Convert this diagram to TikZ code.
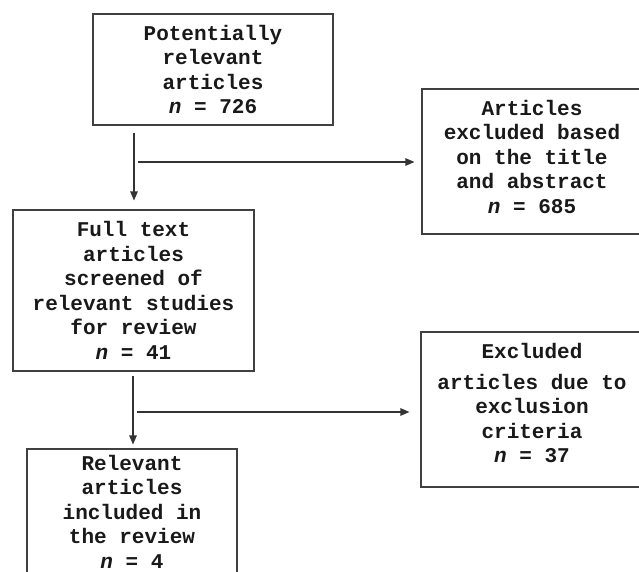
\documentclass[tikz,border=0pt]{standalone}
\usepackage{fontspec}
\setmainfont{Liberation Mono}
\usetikzlibrary{arrows.meta}
\begin{document}
\begin{tikzpicture}[x=1pt,y=-1pt,
  box/.style={draw=black!75, line width=1.1pt, align=center, inner sep=0pt,
    font=\fontsize{21}{24.5}\selectfont\bfseries, text=black!90},
  arr/.style={draw=black!80, line width=1.1pt, -{Triangle[length=9pt,width=7.5pt]}}]
\useasboundingbox (0,0) rectangle (639,571);
\clip (0,0) rectangle (639,571);
\node[box, minimum width=240pt, minimum height=111pt] (b1) at (213,69.5)
  {Potentially\\relevant\\articles\\{\itshape n} = 726};
\node[box, minimum width=220pt, minimum height=145pt, text depth=10pt] (b2) at (532,161.5)
  {Articles\\excluded based\\on the title\\and abstract\\{\itshape n} = 685};
\node[box, minimum width=241pt, minimum height=161pt] (b3) at (133.5,290.5)
  {Full text\\articles\\screened of\\relevant studies\\for review\\{\itshape n} = 41};
\node[box, minimum width=222pt, minimum height=155pt, text depth=13pt] (b4) at (532,409.5)
  {Excluded\\[6pt]articles due to\\exclusion\\criteria\\{\itshape n} = 37};
\node[box, minimum width=210pt, minimum height=132pt, text depth=7pt] (b5) at (132,515)
  {Relevant\\articles\\included in\\the review\\{\itshape n} = 4};
\coordinate (c1) at (134,0);
\coordinate (h1) at (138,162);
\coordinate (c2) at (133,0);
\coordinate (h2) at (137,412);
\draw[arr, shorten <=7pt, shorten >=9pt] (b1.south -| c1) -- (b3.north -| c1);
\draw[arr, shorten >=7pt] (h1) -- (h1 -| b2.west);
\draw[arr, shorten <=4pt, shorten >=4pt] (b3.south -| c2) -- (b5.north -| c2);
\draw[arr, shorten >=11pt] (h2) -- (h2 -| b4.west);
\end{tikzpicture}
\end{document}
